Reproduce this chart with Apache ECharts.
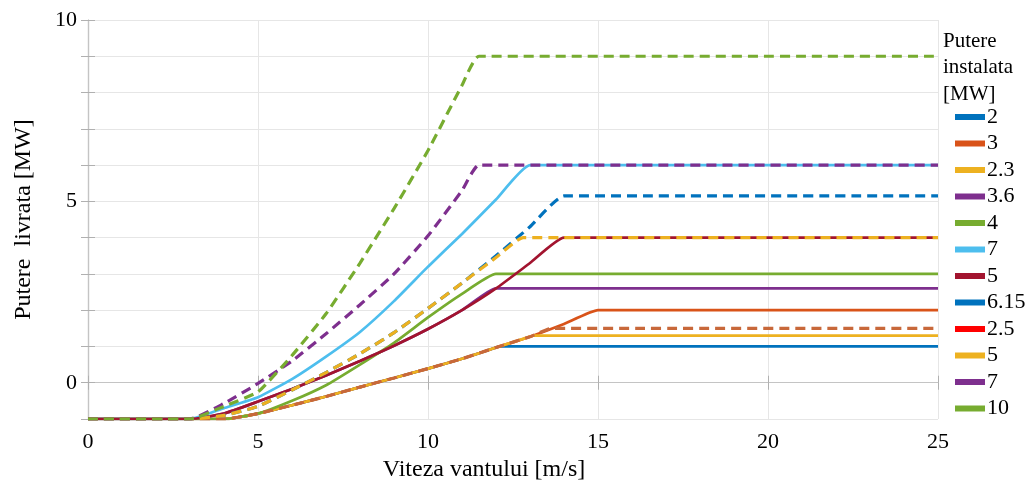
<!DOCTYPE html>
<html>
<head>
<meta charset="utf-8">
<script src="https://cdn.jsdelivr.net/npm/echarts@6/dist/echarts.min.js"></script>
<style>html,body{margin:0;padding:0;background:#fff}#c{width:1030px;height:480px}</style>
</head>
<body>
<div id="c"></div>
<script>
// Wind speed [m/s] vs delivered power [MW] (values as plotted)
const xTicks = [0, 5, 10, 15, 20, 25];
const yTickLabels = [0, 5, 10];
const legendNames = ['2', '3', '2.3', '3.6', '4', '7', '5', '6.15', '2.5', '5 ', '7 ', '10'];

const p2    = [[0,-1],[3,-1],[4,-1],[5,-0.85],[6,-0.62],[7,-0.38],[8,-0.12],[9,0.13],[10,0.39],[11,0.66],[12,0.97],[12.1,1],[25,1]];
const p3    = [[0,-1],[3,-1],[4,-1],[5,-0.85],[6,-0.62],[7,-0.38],[8,-0.12],[9,0.13],[10,0.39],[11,0.66],[12,0.97],[13,1.27],[14,1.62],[15,2],[25,2]];
const p2_3  = [[0,-1],[3,-1],[4,-1],[5,-0.85],[6,-0.62],[7,-0.38],[8,-0.12],[9,0.13],[10,0.39],[11,0.66],[12,0.97],[13,1.27],[13.1,1.3],[25,1.3]];
const p3_6  = [[0,-1],[3,-1],[4,-0.85],[5,-0.52],[6,-0.17],[7,0.2],[8,0.6],[9,1.02],[10,1.48],[11,2.0],[12,2.6],[25,2.6]];
const p4    = [[0,-1],[3,-1],[4,-1],[5,-0.85],[6,-0.5],[7,-0.07],[8,0.5],[9,1.1],[10,1.8],[11,2.45],[12,3],[25,3]];
const p7    = [[0,-1],[3,-1],[4,-0.7],[5,-0.4],[6,0.1],[7,0.72],[8,1.4],[9,2.25],[10,3.2],[11,4.1],[12,5.05],[13,6],[25,6]];
const p5    = [[0,-1],[3,-1],[4,-0.85],[5,-0.52],[6,-0.17],[7,0.2],[8,0.6],[9,1.02],[10,1.48],[11,2.0],[12,2.6],[13,3.3],[14,4],[25,4]];
const p6_15 = [[0,-1],[3,-1],[4,-0.9],[5,-0.65],[6,-0.2],[7,0.28],[8,0.8],[9,1.38],[10,2.05],[11,2.75],[12,3.5],[13,4.3],[14,5.15],[25,5.15]];
const p2_5  = [[0,-1],[3,-1],[4,-1],[5,-0.85],[6,-0.62],[7,-0.38],[8,-0.12],[9,0.13],[10,0.39],[11,0.66],[12,0.97],[13,1.27],[13.65,1.5],[25,1.5]];
const p5d   = [[0,-1],[3,-1],[4,-0.9],[5,-0.65],[6,-0.2],[7,0.28],[8,0.8],[9,1.38],[10,2.05],[11,2.75],[12,3.45],[12.8,4],[25,4]];
const p7d   = [[0,-1],[3,-1],[4,-0.57],[5,-0.02],[6,0.6],[7,1.35],[8,2.15],[9,3.0],[10,4.05],[11,5.3],[11.5,6],[25,6]];
const p10d  = [[0,-1],[3,-1],[4,-0.65],[5,-0.25],[6,0.75],[7,1.9],[8,3.3],[9,4.8],[10,6.4],[11,8.2],[11.5,9],[25,9]];

const seriesData = [p2, p3, p2_3, p3_6, p4, p7, p5, p6_15, p2_5, p5d, p7d, p10d];
const legendColors = ['#0072BD','#D95319','#EDB120','#7E2F8E','#77AC30','#4DBEEE','#A2142F','#0072BD','#FF0000','#EDB120','#7E2F8E','#77AC30'];
const lineColors   = ['#0072BD','#D95319','#EDB120','#7E2F8E','#77AC30','#4DBEEE','#A2142F','#0072BD','#C8683A','#EDB120','#7E2F8E','#77AC30'];
const dashed       = [false,false,false,false,false,false,false,true,true,true,true,true];

const FONT = '"Liberation Serif", "DejaVu Serif", serif';
const chart = echarts.init(document.getElementById('c'), null, {renderer: 'canvas'});

const series = seriesData.map((d, i) => ({
  name: legendNames[i],
  type: 'line',
  data: d,
  showSymbol: false,
  symbol: 'none',
  smooth: 0.15,
  animation: false,
  itemStyle: {color: legendColors[i]},
  lineStyle: {color: lineColors[i], width: dashed[i] ? 3.2 : 2.7, type: dashed[i] ? [10, 6] : 'solid'},
  xAxisIndex: 0, yAxisIndex: 0,
  z: 2 + i
}));

chart.setOption({
  backgroundColor: '#ffffff',
  animation: false,
  title: {
    text: 'Putere\ninstalata\n[MW]',
    left: 943, top: 28, padding: 0,
    textStyle: {fontFamily: FONT, fontSize: 21, fontWeight: 'normal', color: '#000', lineHeight: 26.5}
  },
  legend: {
    orient: 'vertical',
    left: 955, top: 106, padding: 0,
    itemWidth: 30, itemHeight: 6,
    itemGap: 4.5,
    icon: 'rect',
    data: legendNames,
    formatter: n => n.trim(),
    selectedMode: false,
    textStyle: {fontFamily: FONT, fontSize: 22, color: '#000', lineHeight: 20, padding: [0, 0, 0, -3]}
  },
  grid: {left: 88, right: 92, top: 20, bottom: 61, show: false, containLabel: false, outerBoundsMode: 'none'},
  xAxis: [{
    type: 'value', min: 0, max: 25, interval: 5,
    name: 'Viteza vantului [m/s]', nameLocation: 'middle', nameGap: 33,
    nameTextStyle: {fontFamily: FONT, fontSize: 24, color: '#000', padding: [0, 58, 0, 0]},
    axisLine: {show: true, lineStyle: {color: '#c4c4c4', width: 1.2}},
    axisTick: {show: true, inside: true, length: 7, lineStyle: {color: '#b0b0b0'}},
    axisLabel: {fontFamily: FONT, fontSize: 22, color: '#000', margin: 12,
      formatter: v => xTicks.includes(v) ? String(v) : ''},
    splitLine: {show: true, lineStyle: {color: '#e6e6e6', width: 1}}
  }, {
    type: 'value', min: 0, max: 25, interval: 5, position: 'top',
    axisLine: {show: true, lineStyle: {color: '#c4c4c4', width: 1.2}},
    axisTick: {show: true, inside: true, length: 7, lineStyle: {color: '#b0b0b0'}},
    axisLabel: {show: false}, splitLine: {show: false}
  }],
  yAxis: [{
    type: 'value', min: -1, max: 10, interval: 1,
    name: 'Putere  livrata [MW]', nameLocation: 'middle', nameGap: 52,
    nameTextStyle: {fontFamily: FONT, fontSize: 24, color: '#000'},
    axisLine: {show: true, lineStyle: {color: '#c4c4c4', width: 1.2}},
    axisTick: {show: true, inside: true, length: 7, lineStyle: {color: '#b0b0b0'}},
    axisLabel: {fontFamily: FONT, fontSize: 22, color: '#000', margin: 11,
      formatter: v => yTickLabels.includes(v) ? String(v) : ''},
    splitLine: {show: true, lineStyle: {color: '#e6e6e6', width: 1}}
  }, {
    type: 'value', min: -1, max: 10, interval: 1, position: 'right',
    axisLine: {show: true, lineStyle: {color: '#c4c4c4', width: 1.2}},
    axisTick: {show: true, inside: true, length: 7, lineStyle: {color: '#b0b0b0'}},
    axisLabel: {show: false}, splitLine: {show: false}
  }],
  series: series
});
</script>
</body>
</html>
